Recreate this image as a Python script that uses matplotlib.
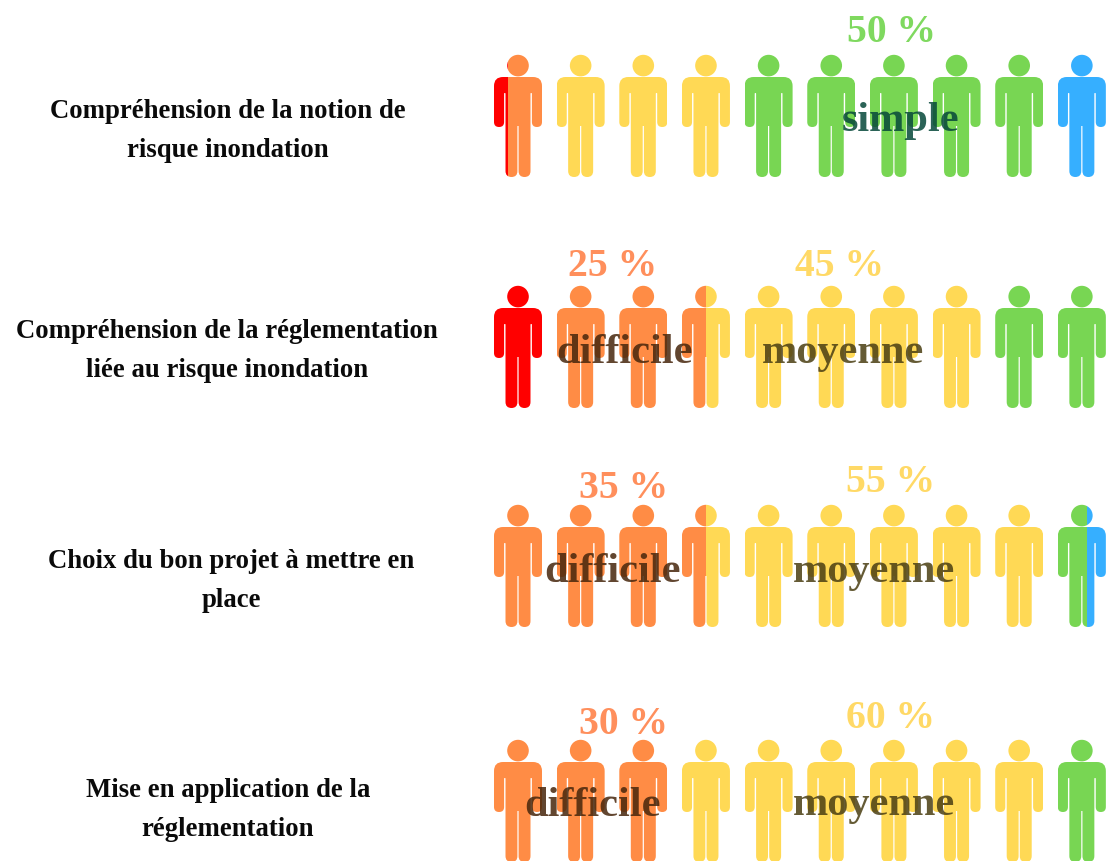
import numpy as np
import matplotlib
matplotlib.use('Agg')
import matplotlib.pyplot as plt
from matplotlib.path import Path
from matplotlib.patches import PathPatch, Circle, Rectangle

# share of answers per level, one value per question
questions = ['Compréhension de la notion de\nrisque inondation',
             'Compréhension de la réglementation\nliée au risque inondation',
             'Choix du bon projet à mettre en\nplace',
             'Mise en application de la\nréglementation']
tres_difficile = [3, 10, 0, 0]
difficile = [7, 25, 35, 30]
moyenne = [30, 45, 55, 60]
simple = [50, 20, 6, 10]
tres_simple = [10, 0, 4, 0]

pct_labels = [['50 %'], ['25 %', '45 %'], ['35 %', '55 %'], ['30 %', '60 %']]
word_labels = [['simple'], ['difficile', 'moyenne'], ['difficile', 'moyenne'], ['difficile', 'moyenne']]

# layout, in pixels of the picture
colors = ['#ff0000', '#ff8c45', '#ffd955', '#78d653', '#36afff']
row_top = [55, 286, 505, 740]
first_x = 518
step = 62.65
n_icons = 10
label_x = [228, 227, 231, 228]
label_y = [131, 351, 581, 810]
pct_pos = [[(892, 33)], [(613, 266), (840, 266)], [(624, 489), (891, 483)], [(624, 724), (891, 718)]]
pct_col = [['#7fd95f'], ['#ff8f5c', '#ffd966'], ['#ff8f5c', '#ffd966'], ['#ff8f5c', '#ffd966']]
word_pos = [[(901, 121)], [(625, 353), (843, 353)], [(613, 572), (874, 572)], [(592, 806), (874, 805)]]
word_col = [['#06483a'], ['#46260c', '#4a3e12'], ['#46260c', '#4a3e12'], ['#46260c', '#4a3e12']]


def rounded(points):
    # closed outline, each point is (x, y, corner radius)
    verts, codes = [], []
    n = len(points)
    for i, (x, y, r) in enumerate(points):
        p = np.array([x, y], float)
        a = np.array(points[i - 1][:2], float)
        b = np.array(points[(i + 1) % n][:2], float)
        start = p + (a - p) / np.linalg.norm(a - p) * r
        end = p + (b - p) / np.linalg.norm(b - p) * r
        verts.append(start)
        codes.append(Path.MOVETO if i == 0 else Path.LINETO)
        if r > 0:
            verts += [p, end]
            codes += [Path.CURVE3, Path.CURVE3]
    verts.append(verts[0])
    codes.append(Path.CLOSEPOLY)
    return np.array(verts), codes


body_pts = [(-24, 22, 9), (24, 22, 9), (24, 72, 5), (13.9, 72, 5), (13.9, 38, 0.6), (12.5, 38, 0.6),
            (12.5, 122, 6), (0.6, 122, 5.9), (0.6, 71, 0), (-0.6, 71, 0), (-0.6, 122, 5.9), (-12.5, 122, 6),
            (-12.5, 38, 0.6), (-13.9, 38, 0.6), (-13.9, 72, 5), (-24, 72, 5)]
body_v, body_c = rounded(body_pts)

fig = plt.figure(figsize=(11.06, 8.61), dpi=100)
ax = fig.add_axes([0, 0, 1, 1])
ax.set_xlim(0, 1106)
ax.set_ylim(861, 0)
ax.axis('off')


def draw_icon(cx, top, color, left, right):
    # left/right = part of the icon's width painted in this colour
    clip = Rectangle((cx - 24 + 48 * left, top - 2), 48 * (right - left), 126, transform=ax.transData)
    shapes = [PathPatch(Path(body_v + [cx, top], body_c), fc=color, ec='none'),
              Circle((cx, top + 10.6), 10.8, fc=color, ec='none')]
    for s in shapes:
        ax.add_patch(s)
        s.set_clip_path(clip)


shares = np.array([tres_difficile, difficile, moyenne, simple, tres_simple], float)
for r in range(len(questions)):
    edges = np.cumsum(shares[:, r]) / 10
    lows = np.concatenate([[0], edges[:-1]])
    for i in range(n_icons):
        cx = first_x + i * step
        for k in range(len(colors)):
            left = max(lows[k], i) - i
            right = min(edges[k], i + 1) - i
            if right > left:
                draw_icon(cx, row_top[r], colors[k], left, right)

    ax.text(label_x[r], label_y[r], questions[r], ha='center', va='center', family='Liberation Serif',
            fontweight='bold', fontsize=19.3, linespacing=1.72, color='#0a0a0a')
    for txt, (x, y), c in zip(pct_labels[r], pct_pos[r], pct_col[r]):
        ax.text(x, y, txt, ha='center', va='center', family='Liberation Serif', fontweight='bold',
                fontsize=28.5, color=c)
    for txt, (x, y), c in zip(word_labels[r], word_pos[r], word_col[r]):
        ax.text(x, y, txt, ha='center', va='center', family='Liberation Serif', fontweight='bold',
                fontsize=30.5, color=c, alpha=0.85)

fig.savefig('out.png', dpi=100)
